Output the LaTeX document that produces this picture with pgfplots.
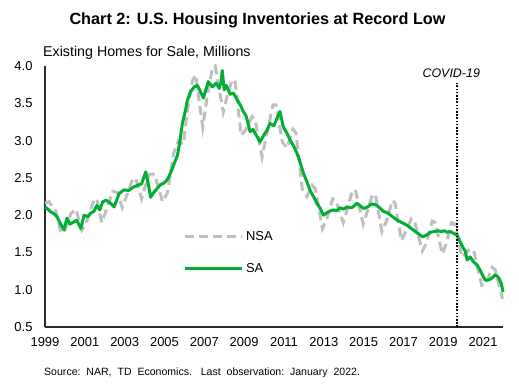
\documentclass[border=0pt]{standalone}
\usepackage{pgfplots}
\pgfplotsset{compat=1.18}
\usepackage{fontspec}
\setmainfont{Liberation Sans}
\definecolor{sagreen}{HTML}{00B034}
\definecolor{nsagray}{HTML}{BFBFBF}
\begin{document}
\begin{tikzpicture}[x=1bp,y=1bp]
\path[use as bounding box] (0,0) rectangle (519,385);
\node[font=\fontsize{16.3}{18}\selectfont\bfseries] at (257.5,365) {Chart 2: U.S. Housing Inventories at Record Low};
\node[anchor=west,inner sep=0,font=\fontsize{14.3}{16}\selectfont] at (43,332) {Existing Homes for Sale, Millions};
\node[anchor=west,inner sep=0,font=\fontsize{10.6}{12}\selectfont] at (44,12) {Source:\ \ NAR,\ \ TD\ \ Economics.\ \ \ Last\ \ observation:\ \ January\ \ 2022.};
\begin{axis}[
  at={(45bp,58bp)}, anchor=south west,
  scale only axis, width=458bp, height=261bp,
  xmin=1999, xmax=2022, ymin=0.5, ymax=4.0,
  axis x line=bottom, axis y line=left,
  axis line style={-, line width=1.5bp, color=black!90!olive},
  xtick={1999,2001,...,2021}, ytick={0.5,1.0,...,4.0},
  major tick length=0pt,
  tick label style={font=\fontsize{13}{15}\selectfont},
  /pgf/number format/assume math mode=true,
  xticklabel style={/pgf/number format/1000 sep={}, yshift=-7bp},
  yticklabel style={/pgf/number format/fixed, /pgf/number format/precision=1, /pgf/number format/fixed zerofill, xshift=-9bp},
  clip=false,
  legend style={at={(0.301,0.368)}, anchor=north west, draw=none, fill=none, inner sep=0pt, row sep=22bp, font=\fontsize{13}{15}\selectfont, nodes={inner xsep=3bp, inner ysep=0bp}},
  legend cell align=left,
  legend image code/.code={\draw[#1] (0bp,0bp) -- (57bp,0bp);},
]
\addplot[color=nsagray, line width=3bp, dash pattern=on 9bp off 5bp] coordinates {
(1999.00,2.16) (1999.20,2.18) (1999.40,2.10) (1999.55,2.05) (1999.80,1.76)
(2000.00,1.80) (2000.30,2.02) (2000.55,2.08) (2000.85,1.80)
(2001.05,1.88) (2001.45,2.20) (2001.60,2.22) (2001.85,1.90)
(2002.05,2.05) (2002.40,2.32) (2002.65,2.30) (2002.88,2.10)
(2003.05,2.22) (2003.35,2.45) (2003.55,2.50) (2003.85,2.22)
(2004.05,2.40) (2004.25,2.55) (2004.50,2.55) (2004.90,2.18)
(2005.15,2.30) (2005.45,2.82) (2005.70,3.00) (2005.95,2.95)
(2006.15,3.40) (2006.40,3.80) (2006.57,3.88) (2006.92,3.18)
(2007.15,3.60) (2007.40,3.96) (2007.55,4.00) (2007.95,3.38)
(2008.15,3.60) (2008.40,3.82) (2008.55,3.78) (2008.85,3.07)
(2009.10,3.15) (2009.40,3.32) (2009.55,3.28) (2009.90,2.78)
(2010.15,3.10) (2010.45,3.48) (2010.60,3.48) (2010.92,2.98)
(2011.15,2.90) (2011.45,3.15) (2011.60,3.10) (2011.92,2.35)
(2012.15,2.25) (2012.42,2.40) (2012.58,2.35) (2012.93,1.82)
(2013.15,1.95) (2013.45,2.22) (2013.60,2.20) (2013.98,1.90)
(2014.15,2.05) (2014.45,2.34) (2014.60,2.32) (2014.98,1.88)
(2015.15,2.02) (2015.45,2.28) (2015.60,2.26) (2015.92,1.78)
(2016.15,1.92) (2016.45,2.20) (2016.58,2.16) (2016.90,1.66)
(2017.15,1.80) (2017.40,1.95) (2017.55,1.92) (2017.95,1.52)
(2018.15,1.62) (2018.45,1.92) (2018.60,1.90) (2018.95,1.48)
(2019.15,1.62) (2019.42,1.90) (2019.58,1.88) (2019.93,1.44)
(2020.10,1.48) (2020.35,1.55) (2020.55,1.50) (2020.93,1.06)
(2021.15,1.08) (2021.45,1.30) (2021.60,1.27) (2021.95,0.90) (2022.00,0.88)
};
\addlegendentry{NSA}
\addplot[color=sagreen, line width=3bp, line join=round] coordinates {
(1999.00,2.11) (1999.15,2.08) (1999.30,2.04) (1999.45,2.02) (1999.60,1.98) (1999.75,1.90) (1999.95,1.80)
(2000.10,1.96) (2000.25,1.88) (2000.45,1.91) (2000.60,1.93) (2000.80,1.82) (2000.96,2.00)
(2001.15,1.98) (2001.30,2.03) (2001.46,2.05) (2001.60,2.13) (2001.75,2.07) (2001.90,2.18)
(2002.05,2.20) (2002.25,2.17) (2002.47,2.11) (2002.60,2.20) (2002.72,2.29) (2002.97,2.34)
(2003.20,2.33) (2003.40,2.37) (2003.64,2.40) (2003.85,2.42) (2004.06,2.58) (2004.20,2.40)
(2004.30,2.24) (2004.45,2.30) (2004.64,2.36) (2004.80,2.41) (2004.98,2.43)
(2005.15,2.48) (2005.30,2.56) (2005.50,2.70) (2005.65,2.80) (2005.78,3.00) (2005.90,3.23)
(2006.05,3.40) (2006.15,3.54) (2006.30,3.65) (2006.49,3.72) (2006.65,3.74) (2006.80,3.66) (2006.95,3.57)
(2007.10,3.70) (2007.20,3.79) (2007.40,3.72) (2007.60,3.77) (2007.75,3.70) (2007.85,3.80) (2007.90,3.94)
(2008.00,3.68) (2008.10,3.74) (2008.30,3.62) (2008.45,3.64) (2008.60,3.57) (2008.80,3.48) (2008.96,3.39)
(2009.10,3.33) (2009.30,3.12) (2009.45,3.15) (2009.55,3.10) (2009.80,2.98)
(2010.00,3.08) (2010.15,3.14) (2010.30,3.23) (2010.50,3.20) (2010.65,3.30) (2010.80,3.39) (2010.97,3.18)
(2011.15,3.10) (2011.30,3.01) (2011.50,2.92) (2011.65,2.83) (2011.80,2.72) (2011.98,2.56)
(2012.15,2.45) (2012.30,2.34) (2012.50,2.24) (2012.65,2.16) (2012.80,2.10) (2012.98,2.00)
(2013.20,2.04) (2013.35,2.06) (2013.50,2.07) (2013.65,2.06) (2013.80,2.10)
(2014.00,2.08) (2014.16,2.11) (2014.40,2.10) (2014.55,2.13) (2014.66,2.16) (2014.85,2.12)
(2015.00,2.09) (2015.20,2.11) (2015.40,2.15) (2015.60,2.14) (2015.80,2.10)
(2016.00,2.05) (2016.20,2.03) (2016.40,1.99) (2016.55,1.96) (2016.70,1.93) (2016.85,1.91)
(2017.00,1.89) (2017.20,1.86) (2017.40,1.82) (2017.55,1.79) (2017.75,1.75) (2017.96,1.71)
(2018.15,1.73) (2018.35,1.77) (2018.55,1.78) (2018.75,1.79) (2018.90,1.78)
(2019.05,1.79) (2019.20,1.77) (2019.35,1.78) (2019.55,1.75) (2019.70,1.73) (2019.85,1.64)
(2020.00,1.56) (2020.10,1.52) (2020.20,1.40) (2020.35,1.44) (2020.50,1.38) (2020.70,1.33) (2020.86,1.26)
(2021.00,1.18) (2021.10,1.13) (2021.25,1.13) (2021.36,1.14) (2021.50,1.17) (2021.60,1.20) (2021.72,1.18)
(2021.80,1.15) (2021.92,1.08) (2022.00,0.97)
};
\addlegendentry{SA}
\draw[black, line width=2bp, dash pattern=on 1.6bp off 1.6bp] (axis cs:2019.7,0.5) -- (axis cs:2019.7,3.77);
\node[font=\fontsize{12.5}{14}\selectfont\itshape] at (axis cs:2019.4,3.9) {COVID-19};
\end{axis}
\end{tikzpicture}
\end{document}
